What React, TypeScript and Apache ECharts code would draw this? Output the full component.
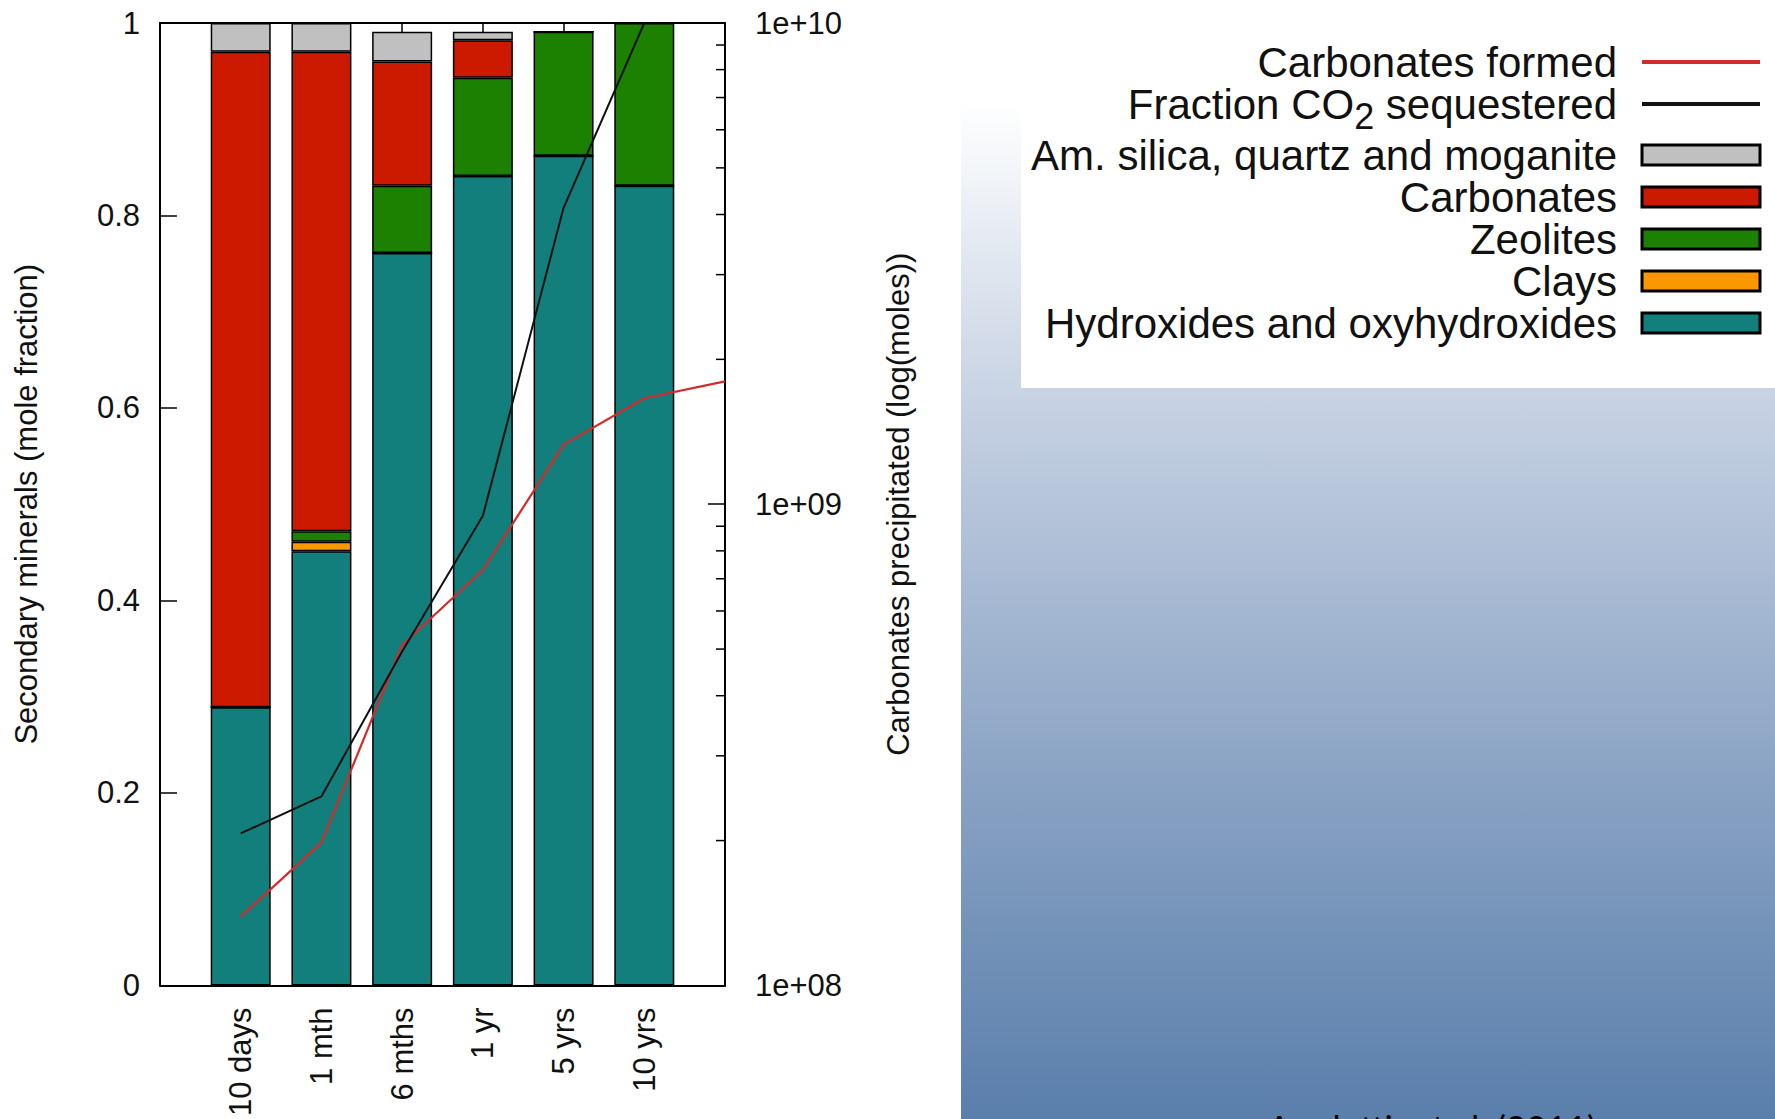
import React, { useEffect, useRef } from "react";
import * as echarts from "echarts";

// ---- data ----
const categories = ["", "10 days", "1 mth", "6 mths", "1 yr", "5 yrs", "10 yrs", ""];
const hydroxides = [0.289, 0.451, 0.761, 0.841, 0.862, 0.831];
const clays = [0, 0.01, 0, 0, 0, 0];
const zeolites = [0, 0.011, 0.07, 0.102, 0.129, 0.169];
const carbonates = [0.681, 0.498, 0.129, 0.039, 0, 0];
const silica = [0.03, 0.03, 0.031, 0.009, 0, 0];
// line series over the 8 slots (first slot empty, last slot = right edge)
const carbonatesFormed = [null, 1.39e8, 1.98e8, 5.1e8, 7.3e8, 1.33e9, 1.66e9, 1.8e9];
const fractionCO2 = [null, 2.07e8, 2.47e8, 4.94e8, 9.46e8, 4.13e9, 1.0e10, null];
const leftTicks = { min: 0, max: 1, interval: 0.2 };
const logMinorTicks = [2e8, 3e8, 4e8, 5e8, 6e8, 7e8, 8e8, 9e8, 2e9, 3e9, 4e9, 5e9, 6e9, 7e9, 8e9, 9e9];
const caption = "Aradottir et al. (2011)";

const FONT = "'Liberation Sans', Arial, Helvetica, sans-serif";
const pad = (arr: number[]) => [null, ...arr, null];

export default function App() {
  const ref = useRef<HTMLDivElement>(null);
  useEffect(() => {
    document.body.style.margin = "0";
    const chart = echarts.init(ref.current!, null, { renderer: "svg" });
    const barBase = {
      type: "bar",
      stack: "minerals",
      xAxisIndex: 0,
      yAxisIndex: 0,
      barWidth: 60,
      z: 2,
    };
    const border = { borderColor: "#000", borderWidth: 1.5 };
    const rectLegend = { icon: "rect", itemStyle: { borderWidth: 3, borderColor: "#000" } };
    const option: any = {
      animation: false,
      backgroundColor: "#ffffff",
      textStyle: { fontFamily: FONT },
      graphic: [
        {
          type: "rect",
          z: -10,
          shape: { x: 961, y: 103, width: 814, height: 1016 },
          style: {
            fill: new echarts.graphic.LinearGradient(0, 0, 0, 1, [
              { offset: 0, color: "#ffffff" },
              { offset: 0.28, color: "#c9d4e4" },
              { offset: 0.49, color: "#a6b8d2" },
              { offset: 0.69, color: "#86a0c2" },
              { offset: 1, color: "#5a7fab" },
            ]),
          },
        },
        {
          type: "rect",
          z: -9,
          shape: { x: 1021, y: 0, width: 754, height: 388 },
          style: { fill: "#ffffff" },
        },
        {
          type: "text",
          z: 5,
          x: 1432,
          y: 1109,
          style: {
            text: caption,
            fill: "#000",
            font: "35px Lato, 'Open Sans', sans-serif",
            textAlign: "center",
            textVerticalAlign: "top",
          },
        },
      ],
      legend: {
        orient: "vertical",
        right: 8,
        top: 36,
        align: "right",
        itemWidth: 118,
        itemHeight: 20,
        itemGap: 0,
        selectedMode: false,
        textStyle: {
          fontSize: 42,
          fontFamily: FONT,
          color: "#111",
          padding: [0, 20, 0, 0],
          rich: {
            sub: { fontSize: 36, padding: [12, 0, -12, 0], fontFamily: FONT, color: "#111" },
          },
        },
        formatter: (name: string) =>
          name === "Fraction CO2 sequestered" ? "Fraction CO{sub|2} sequestered" : name,
        data: [
          { name: "Carbonates formed", lineStyle: { width: 4 }, itemStyle: { opacity: 0 } },
          { name: "Fraction CO2 sequestered", lineStyle: { width: 4 }, itemStyle: { opacity: 0 } },
          { name: "Am. silica, quartz and moganite", ...rectLegend },
          { name: "Carbonates", ...rectLegend },
          { name: "Zeolites", ...rectLegend },
          { name: "Clays", ...rectLegend },
          { name: "Hydroxides and oxyhydroxides", ...rectLegend },
        ],
      },
      grid: { left: 160, top: 23, width: 565, height: 964, containLabel: false },
      xAxis: [
        {
          type: "category",
          data: categories,
          boundaryGap: false,
          position: "bottom",
          axisLine: { lineStyle: { color: "#000", width: 2 } },
          axisTick: { show: false },
          axisLabel: {
            interval: 0,
            rotate: 90,
            margin: 22,
            fontSize: 31,
            color: "#111",
            fontFamily: FONT,
          },
        },
        {
          type: "category",
          data: categories,
          boundaryGap: false,
          position: "top",
          axisLine: { lineStyle: { color: "#000", width: 2 } },
          axisTick: { show: true, inside: true, length: 14, interval: 0, lineStyle: { color: "#000", width: 1.5 } },
          axisLabel: { show: false },
        },
      ],
      yAxis: [
        {
          type: "value",
          position: "left",
          min: leftTicks.min,
          max: leftTicks.max,
          interval: leftTicks.interval,
          name: "Secondary minerals (mole fraction)",
          nameLocation: "middle",
          nameRotate: 90,
          nameGap: 118,
          nameTextStyle: { fontSize: 31, color: "#111", fontFamily: FONT },
          axisLine: { show: true, lineStyle: { color: "#000", width: 2 } },
          axisTick: { show: true, inside: true, length: 17, lineStyle: { color: "#000", width: 1.5 } },
          axisLabel: { margin: 20, fontSize: 31, color: "#111", fontFamily: FONT },
          splitLine: { show: false },
        },
        {
          type: "log",
          logBase: 10,
          position: "right",
          min: 1e8,
          max: 1e10,
          name: "Carbonates precipitated (log(moles))",
          nameLocation: "middle",
          nameRotate: 90,
          nameGap: 158,
          nameTextStyle: { fontSize: 31, color: "#111", fontFamily: FONT },
          axisLine: { show: true, lineStyle: { color: "#000", width: 2 } },
          axisTick: { show: true, inside: true, length: 17, lineStyle: { color: "#000", width: 1.5 } },
          axisLabel: {
            margin: 30,
            fontSize: 31,
            color: "#111",
            fontFamily: FONT,
            formatter: (v: number) => {
              const e = Math.round(Math.log10(v));
              return "1e+" + (e < 10 ? "0" + e : String(e));
            },
          },
          splitLine: { show: false },
        },
      ],
      series: [
        { ...barBase, name: "Hydroxides and oxyhydroxides", data: pad(hydroxides), itemStyle: { color: "#127f7c", ...border } },
        { ...barBase, name: "Clays", data: pad(clays), itemStyle: { color: "#fb9800", ...border } },
        { ...barBase, name: "Zeolites", data: pad(zeolites), itemStyle: { color: "#1c8000", ...border } },
        { ...barBase, name: "Carbonates", data: pad(carbonates), itemStyle: { color: "#cc1a00", ...border } },
        { ...barBase, name: "Am. silica, quartz and moganite", data: pad(silica), itemStyle: { color: "#c0c0c0", ...border } },
        {
          type: "line",
          name: "Carbonates formed",
          xAxisIndex: 0,
          yAxisIndex: 1,
          data: carbonatesFormed,
          symbol: "none",
          z: 5,
          color: "#d42a2a",
          lineStyle: { color: "#d42a2a", width: 2.2 },
        },
        {
          type: "line",
          name: "Fraction CO2 sequestered",
          xAxisIndex: 0,
          yAxisIndex: 1,
          data: fractionCO2,
          symbol: "none",
          z: 5,
          color: "#111111",
          lineStyle: { color: "#111111", width: 2 },
        },
        {
          type: "custom",
          name: "minorTicks",
          xAxisIndex: 0,
          yAxisIndex: 1,
          silent: true,
          z: 1,
          data: logMinorTicks.map((v) => [0, v]),
          renderItem: (params: any, api: any) => {
            const y = api.coord([0, api.value(1)])[1];
            const cs = params.coordSys;
            const x = cs.x + cs.width;
            return {
              type: "line",
              shape: { x1: x - 9, y1: y, x2: x, y2: y },
              style: { stroke: "#000", lineWidth: 1.5 },
            };
          },
        },
      ],
    };
    chart.setOption(option);
    return () => chart.dispose();
  }, []);
  return <div ref={ref} style={{ width: 1775, height: 1119 }} />;
}
